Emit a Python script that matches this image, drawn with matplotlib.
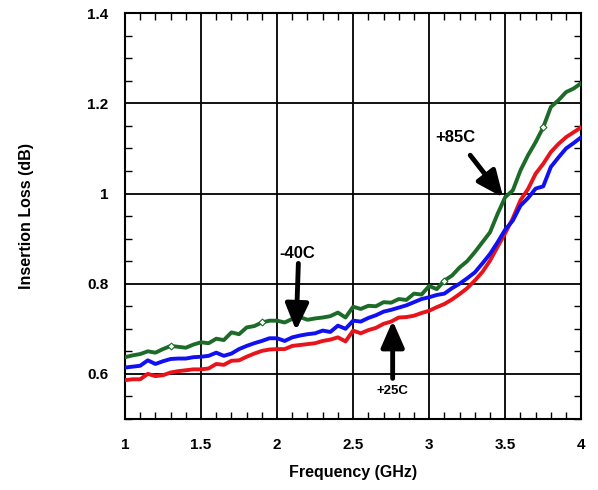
import matplotlib
matplotlib.use("Agg")
import matplotlib.pyplot as plt
from matplotlib.ticker import MultipleLocator, FixedLocator

plt.rcParams["font.family"] = ["Liberation Sans", "DejaVu Sans"]
plt.rcParams["font.weight"] = "bold"

# frequency points (GHz), 0.05 GHz step
freq = [1.00, 1.05, 1.10, 1.15, 1.20, 1.25, 1.30, 1.35, 1.40, 1.45,
        1.50, 1.55, 1.60, 1.65, 1.70, 1.75, 1.80, 1.85, 1.90, 1.95,
        2.00, 2.05, 2.10, 2.15, 2.20, 2.25, 2.30, 2.35, 2.40, 2.45,
        2.50, 2.55, 2.60, 2.65, 2.70, 2.75, 2.80, 2.85, 2.90, 2.95,
        3.00, 3.05, 3.10, 3.15, 3.20, 3.25, 3.30, 3.35, 3.40, 3.45,
        3.50, 3.55, 3.60, 3.65, 3.70, 3.75, 3.80, 3.85, 3.90, 3.95, 4.00]

loss_85c = [0.637, 0.641, 0.644, 0.650, 0.647, 0.655, 0.662, 0.660, 0.658, 0.665,
            0.670, 0.668, 0.678, 0.675, 0.692, 0.688, 0.703, 0.706, 0.714, 0.718,
            0.718, 0.714, 0.722, 0.726, 0.720, 0.723, 0.725, 0.728, 0.736, 0.725,
            0.749, 0.744, 0.751, 0.750, 0.759, 0.758, 0.766, 0.764, 0.778, 0.776,
            0.795, 0.788, 0.807, 0.818, 0.836, 0.850, 0.870, 0.892, 0.914, 0.955,
            0.992, 1.007, 1.051, 1.085, 1.114, 1.147, 1.192, 1.207, 1.225, 1.233, 1.245]

loss_m40c = [0.614, 0.616, 0.618, 0.630, 0.622, 0.628, 0.633, 0.634, 0.634, 0.637,
             0.638, 0.640, 0.647, 0.640, 0.645, 0.655, 0.662, 0.668, 0.673, 0.679,
             0.679, 0.673, 0.681, 0.685, 0.688, 0.690, 0.696, 0.693, 0.707, 0.700,
             0.718, 0.716, 0.724, 0.730, 0.738, 0.742, 0.747, 0.752, 0.759, 0.766,
             0.770, 0.775, 0.778, 0.790, 0.800, 0.812, 0.825, 0.845, 0.866, 0.892,
             0.920, 0.940, 0.973, 0.990, 1.011, 1.016, 1.059, 1.080, 1.100, 1.112, 1.125]

loss_25c = [0.586, 0.588, 0.588, 0.600, 0.595, 0.597, 0.603, 0.606, 0.608, 0.610,
            0.610, 0.612, 0.622, 0.620, 0.629, 0.630, 0.638, 0.645, 0.651, 0.654,
            0.655, 0.655, 0.662, 0.664, 0.666, 0.668, 0.673, 0.676, 0.681, 0.672,
            0.696, 0.690, 0.697, 0.702, 0.711, 0.716, 0.725, 0.726, 0.729, 0.735,
            0.740, 0.748, 0.755, 0.765, 0.777, 0.790, 0.807, 0.826, 0.851, 0.882,
            0.912, 0.945, 0.985, 1.010, 1.044, 1.066, 1.092, 1.110, 1.125, 1.136, 1.147]

x_ticks = [1, 1.5, 2, 2.5, 3, 3.5, 4]
x_ticklabels = ["1", "1.5", "2", "2.5", "3", "3.5", "4"]
y_ticks = [0.6, 0.8, 1.0, 1.2, 1.4]
y_ticklabels = ["0.6", "0.8", "1", "1.2", "1.4"]

GREEN = "#1d6b28"
BLUE = "#1010f0"
RED = "#e8141c"

fig = plt.figure(figsize=(5.98, 4.90), dpi=100)
ax = fig.add_axes([0.209, 0.145, 0.763, 0.828])

ax.plot(freq, loss_85c, color=GREEN, lw=2.8, zorder=4,
        marker="D", markersize=3.5, markerfacecolor="white",
        markeredgecolor=GREEN, markeredgewidth=0.8, markevery=[6, 18, 42, 55])
ax.plot(freq, loss_25c, color=RED, lw=2.8, zorder=3)
ax.plot(freq, loss_m40c, color=BLUE, lw=2.8, zorder=3.5)

ax.set_xlim(1, 4)
ax.set_ylim(0.5, 1.4)
ax.xaxis.set_major_locator(FixedLocator(x_ticks))
ax.xaxis.set_minor_locator(MultipleLocator(0.1))
ax.yaxis.set_major_locator(FixedLocator(y_ticks))
ax.yaxis.set_minor_locator(MultipleLocator(0.05))
ax.set_xticklabels(x_ticklabels)
ax.set_yticklabels(y_ticklabels)

ax.tick_params(which="major", length=0, labelsize=11)
ax.tick_params(axis="x", which="major", pad=14)
ax.tick_params(axis="y", which="major", pad=12)
ax.tick_params(which="minor", direction="in", length=5, width=1,
               top=True, right=True)
ax.grid(True, which="major", color="black", lw=1.3)
for s in ax.spines.values():
    s.set_linewidth(1.5)

ax.set_xlabel("Frequency (GHz)", fontsize=11.5, fontweight="bold", labelpad=9)
ax.set_ylabel("Insertion Loss (dB)", fontsize=11.5, fontweight="bold", labelpad=38)

arrow = dict(arrowstyle="-|>,head_length=0.8,head_width=0.35", lw=3.5,
             color="black", mutation_scale=20, shrinkA=0, shrinkB=0)
ax.annotate("", xy=(3.487, 0.991), xytext=(3.27, 1.085), arrowprops=arrow, zorder=6)
ax.text(3.17, 1.124, "+85C", fontsize=12, fontweight="bold", ha="center", va="center")
ax.annotate("", xy=(2.125, 0.696), xytext=(2.14, 0.845), arrowprops=arrow, zorder=6)
ax.text(2.13, 0.867, "-40C", fontsize=12, fontweight="bold", ha="center", va="center")
ax.annotate("", xy=(2.76, 0.718), xytext=(2.76, 0.590), arrowprops=arrow, zorder=6)
ax.text(2.76, 0.562, "+25C", fontsize=9.5, fontweight="bold", ha="center", va="center")

fig.savefig("out.png", dpi=100)
